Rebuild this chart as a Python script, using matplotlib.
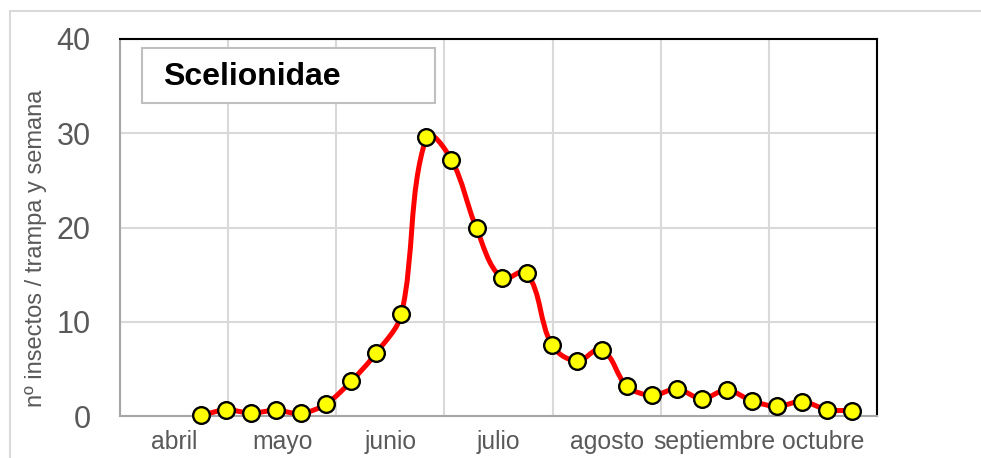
import matplotlib.pyplot as plt
import numpy as np
from matplotlib.path import Path
from matplotlib.patches import PathPatch, Rectangle

plt.rcParams['font.family'] = ['Liberation Sans', 'DejaVu Sans']

months = ['abril', 'mayo', 'junio', 'julio', 'agosto', 'septiembre', 'octubre']
# weekly catches, first sample in late april
week_pos = [0.749 + 0.2316 * k for k in range(27)]
catches = [0.07, 0.64, 0.32, 0.60, 0.28, 1.30, 3.70, 6.70, 10.80, 29.60, 27.20,
           19.90, 14.65, 15.20, 7.57, 5.83, 7.00, 3.17, 2.20, 2.85, 1.85, 2.74,
           1.60, 1.03, 1.53, 0.68, 0.57]
yticks = [0, 10, 20, 30, 40]

grey = '#595959'

fig = plt.figure(figsize=(9.81, 4.58), dpi=100)
ax = fig.add_axes([120 / 981, 1 - 416 / 458, 757 / 981, 377 / 458])

# light frame round the chart area
fig.add_artist(Rectangle((10 / 981, -0.1), 1.2, (447 / 458) + 0.1, transform=fig.transFigure,
                         fill=False, edgecolor='#d9d9d9', linewidth=1.5))

ax.set_xlim(0, 7)
ax.set_ylim(0, 40)
ax.set_xticks(np.arange(0, 8))
ax.set_xticks(np.arange(7) + 0.5, minor=True)
ax.set_xticklabels([])
ax.set_xticklabels(months, minor=True, fontsize=17.8, color=grey)
ax.set_yticks(yticks)
ax.set_yticklabels([str(v) for v in yticks], fontsize=22, color=grey)
ax.tick_params(which='both', length=0)
ax.tick_params(axis='y', pad=21)
ax.tick_params(axis='x', which='minor', pad=10)
ax.grid(True, which='major', color='#d9d9d9', linewidth=1.5)
ax.set_axisbelow(True)

for s in ['top', 'right']:
    ax.spines[s].set_color('black')
    ax.spines[s].set_linewidth(1.5)
for s in ['left', 'bottom']:
    ax.spines[s].set_color('#a6a6a6')
    ax.spines[s].set_linewidth(1.5)

ax.set_ylabel('nº insectos / trampa y semana', fontsize=17, color=grey)
ax.yaxis.set_label_coords((47 - 120) / 757, (416 - 248) / 377)

# smoothed line like the spreadsheet one (cubic bezier through the points)
# tangents worked out in pixel-like units so steep parts don't overshoot
sx, sy = 108.1, 9.425
x = np.array(week_pos)
y = np.array(catches)
P = np.column_stack([x * sx, y * sy])
n = len(P)
verts = [(x[0], y[0])]
codes = [Path.MOVETO]
for i in range(n - 1):
    i0 = max(i - 1, 0)
    i3 = min(i + 2, n - 1)
    chord = np.hypot(*(P[i + 1] - P[i]))
    d1 = P[i + 1] - P[i0]
    d2 = P[i3] - P[i]
    c1 = P[i] + d1 / np.hypot(*d1) * chord / 3
    c2 = P[i + 1] - d2 / np.hypot(*d2) * chord / 3
    for c in (c1, c2):
        verts.append((c[0] / sx, c[1] / sy))
    verts.append((x[i + 1], y[i + 1]))
    codes += [Path.CURVE4] * 3
ax.add_patch(PathPatch(Path(verts, codes), facecolor='none', edgecolor='red',
                       linewidth=3.6, zorder=3, clip_on=False))
ax.plot(x, y, linestyle='none', marker='o', markersize=12, markerfacecolor='yellow',
        markeredgecolor='black', markeredgewidth=1.7, zorder=4, clip_on=False)

# title box
ax.add_patch(Rectangle(((142 - 120) / 757, (416 - 103) / 377), 293 / 757, 55 / 377,
                       transform=ax.transAxes, facecolor='white', edgecolor='#bfbfbf',
                       linewidth=1.5, zorder=5))
ax.text((163 - 120) / 757, (416 - 77) / 377, 'Scelionidae', transform=ax.transAxes,
        fontsize=23, fontweight='bold', color='black', va='center', ha='left', zorder=6)

fig.savefig('out.png', dpi=100)
